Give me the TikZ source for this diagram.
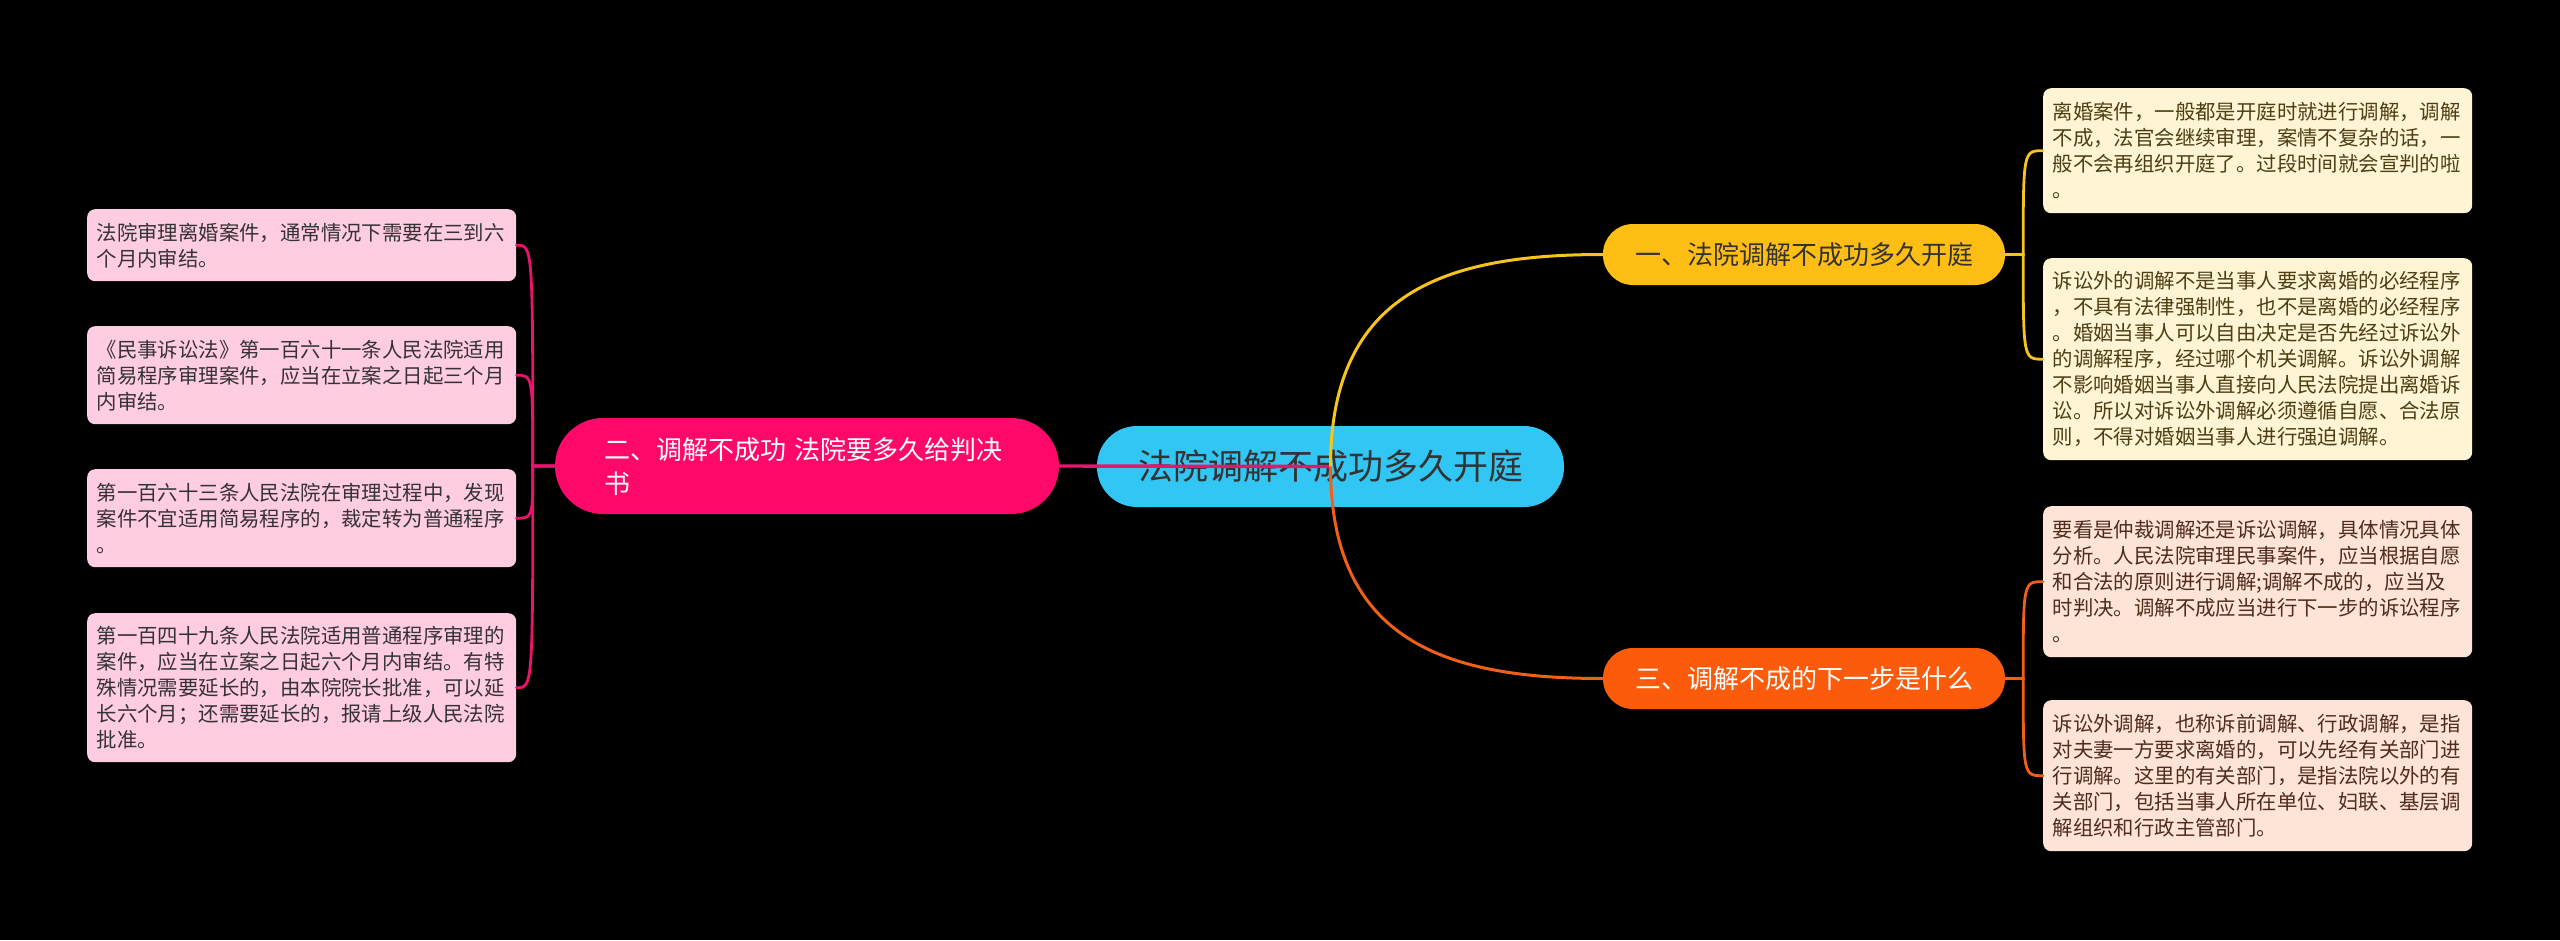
\documentclass[tikz,border=0pt]{standalone}
\usepackage{fontspec}
\setmainfont{Noto Sans CJK SC}
\usetikzlibrary{calc}
\pgfdeclarelayer{bg}
\pgfsetlayers{bg,main}
\definecolor{cfill}{RGB}{50,198,244}
\definecolor{pfill}{RGB}{254,8,106}
\definecolor{yfill}{RGB}{255,190,20}
\definecolor{ofill}{RGB}{253,91,12}
\definecolor{lpink}{RGB}{255,204,226}
\definecolor{lcream}{RGB}{255,244,212}
\definecolor{lpeach}{RGB}{253,228,214}
\definecolor{pline}{RGB}{232,20,110}
\definecolor{yline}{RGB}{247,196,28}
\definecolor{oline}{RGB}{240,96,24}
\definecolor{tdark}{RGB}{51,51,51}
\definecolor{tolive}{RGB}{77,62,20}
\definecolor{tbrown}{RGB}{79,44,27}
\begin{document}
\begin{tikzpicture}[x=1pt,y=-1pt,
  leaf/.style={rectangle, rounded corners=8pt, inner xsep=9.5pt, inner ysep=2pt,
    text width=410pt, align=left, anchor=north west,
    font=\fontsize{20.4}{26}\selectfont},
  mainnode/.style={rectangle, inner sep=0pt, align=center,
    font=\fontsize{26}{34}\selectfont},
  conn/.style={line width=2.8pt, line cap=round}
]
\begin{pgfonlayer}{bg}
\fill[black] (0,0) rectangle (2560,940);
\useasboundingbox (0,0) rectangle (2560,940);
\node[rectangle, fill=cfill, rounded corners=40pt, minimum width=467pt, minimum height=81pt,
  inner sep=0pt, text=tdark, font=\fontsize{35}{42}\selectfont] (ct) at (1330.5,466.5) {法院调解不成功多久开庭};
\end{pgfonlayer}

% main branch nodes
\node[mainnode, fill=yfill, text=tdark, rounded corners=30pt, minimum width=402pt, minimum height=61pt] (n1) at (1804,254.5) {一、法院调解不成功多久开庭};
\node[mainnode, fill=pfill, text=white, rounded corners=48pt, minimum width=504pt, minimum height=96pt, text width=406pt, align=left] (n2) at (807,466) {二、调解不成功 法院要多久给判决\\书};
\node[mainnode, fill=ofill, text=white, rounded corners=30pt, minimum width=402pt, minimum height=61pt] (n3) at (1804,678.5) {三、调解不成的下一步是什么};

% left leaves
\node[leaf, fill=lpink, text=tdark, minimum height=72pt] (l1) at (87,209) {法院审理离婚案件，通常情况下需要在三到六\\个月内审结。};
\node[leaf, fill=lpink, text=tdark, minimum height=98pt] (l2) at (87,326) {《民事诉讼法》第一百六十一条人民法院适用\\简易程序审理案件，应当在立案之日起三个月\\内审结。};
\node[leaf, fill=lpink, text=tdark, minimum height=98pt] (l3) at (87,469) {第一百六十三条人民法院在审理过程中，发现\\案件不宜适用简易程序的，裁定转为普通程序\\。};
\node[leaf, fill=lpink, text=tdark, minimum height=149pt] (l4) at (87,613) {第一百四十九条人民法院适用普通程序审理的\\案件，应当在立案之日起六个月内审结。有特\\殊情况需要延长的，由本院院长批准，可以延\\长六个月；还需要延长的，报请上级人民法院\\批准。};

% right leaves
\node[leaf, fill=lcream, text=tolive, minimum height=125pt] (r1) at (2043,88) {离婚案件，一般都是开庭时就进行调解，调解\\不成，法官会继续审理，案情不复杂的话，一\\般不会再组织开庭了。过段时间就会宣判的啦\\。};
\node[leaf, fill=lcream, text=tolive, minimum height=202pt] (r2) at (2043,258) {诉讼外的调解不是当事人要求离婚的必经程序\\，不具有法律强制性，也不是离婚的必经程序\\。婚姻当事人可以自由决定是否先经过诉讼外\\的调解程序，经过哪个机关调解。诉讼外调解\\不影响婚姻当事人直接向人民法院提出离婚诉\\讼。所以对诉讼外调解必须遵循自愿、合法原\\则，不得对婚姻当事人进行强迫调解。};
\node[leaf, fill=lpeach, text=tbrown, minimum height=151pt] (r3) at (2043,506) {要看是仲裁调解还是诉讼调解，具体情况具体\\分析。人民法院审理民事案件，应当根据自愿\\和合法的原则进行调解;调解不成的，应当及\\时判决。调解不成应当进行下一步的诉讼程序\\。};
\node[leaf, fill=lpeach, text=tbrown, minimum height=151pt] (r4) at (2043,700) {诉讼外调解，也称诉前调解、行政调解，是指\\对夫妻一方要求离婚的，可以先经有关部门进\\行调解。这里的有关部门，是指法院以外的有\\关部门，包括当事人所在单位、妇联、基层调\\解组织和行政主管部门。};

% junction points
\coordinate (jl) at ($(n2.west)+(-22,0)$);
\coordinate (jy) at ($(n1.east)+(18,0)$);
\coordinate (jo) at ($(n3.east)+(18,0)$);

% main connectors
\draw[pline, line width=3.4pt] (ct.center) -- (n2.east);
\draw[yline, line width=3pt] (ct.center) .. controls ($(ct.center)+(0,-176)$) and ($(n1.west)+(-155,0)$) .. (n1.west);
\draw[oline, line width=3pt] (ct.center) .. controls ($(ct.center)+(0,176)$) and ($(n3.west)+(-155,0)$) .. (n3.west);

% left leaf connectors
\foreach \l in {l1,l2,l3,l4}{
  \draw[conn, pline] (n2.west) -- (jl) .. controls (jl |- \l.east) and (jl |- \l.east) .. (\l.east);
}
% right leaf connectors
\foreach \r in {r1,r2}{
  \draw[conn, yline] (n1.east) -- (jy) .. controls (jy |- \r.west) and (jy |- \r.west) .. (\r.west);
}
\foreach \r in {r3,r4}{
  \draw[conn, oline] (n3.east) -- (jo) .. controls (jo |- \r.west) and (jo |- \r.west) .. (\r.west);
}
\end{tikzpicture}
\end{document}
